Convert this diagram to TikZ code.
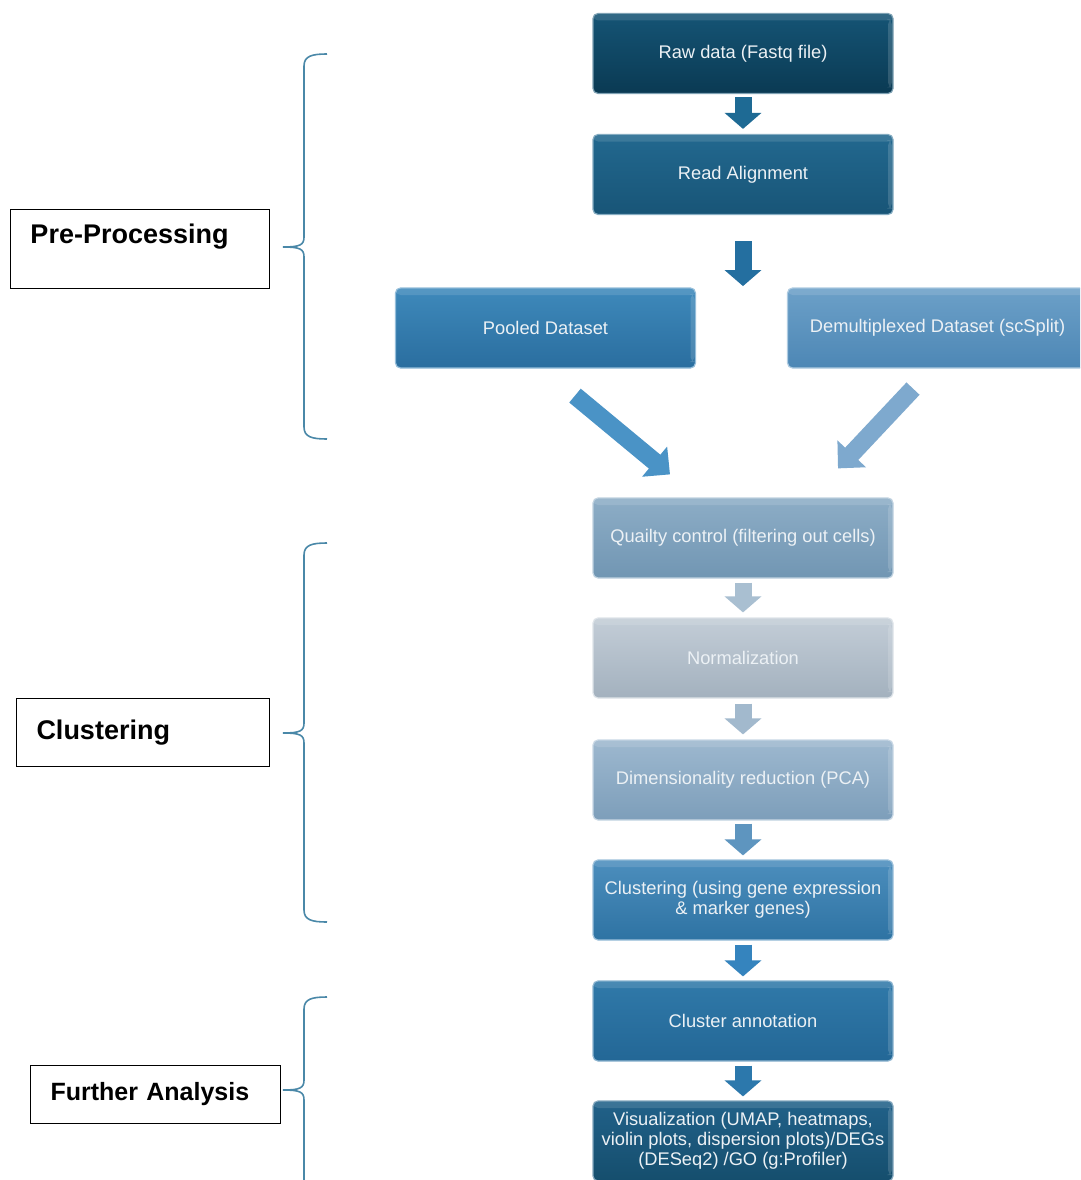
\documentclass[tikz,border=0pt]{standalone}
\usepackage{fontspec}
\setmainfont{Liberation Sans}
\usetikzlibrary{arrows.meta,calc}

\definecolor{boxtext}{HTML}{ECF1F5}
\definecolor{bracecol}{HTML}{4A88A8}
% box colours (top, bottom)
\definecolor{rawT}{HTML}{155475}\definecolor{rawB}{HTML}{0A3A53}
\definecolor{readT}{HTML}{22688F}\definecolor{readB}{HTML}{185577}
\definecolor{poolT}{HTML}{3E89BB}\definecolor{poolB}{HTML}{2A6E9F}
\definecolor{demT}{HTML}{6CA0C8}\definecolor{demB}{HTML}{4D87B5}
\definecolor{qcT}{HTML}{8DADC6}\definecolor{qcB}{HTML}{7196B3}
\definecolor{normT}{HTML}{C3CDD7}\definecolor{normB}{HTML}{A3B1BE}
\definecolor{dimT}{HTML}{9DB8CF}\definecolor{dimB}{HTML}{7D9EBA}
\definecolor{cluT}{HTML}{4C8EBD}\definecolor{cluB}{HTML}{2E73A3}
\definecolor{annT}{HTML}{3079A9}\definecolor{annB}{HTML}{236796}
\definecolor{visT}{HTML}{216189}\definecolor{visB}{HTML}{154E6D}
% arrow colours
\definecolor{arA}{HTML}{1E6A94}
\definecolor{arB}{HTML}{246FA0}
\definecolor{arC}{HTML}{4A93C6}
\definecolor{arD}{HTML}{7EA9CE}
\definecolor{arE}{HTML}{A9BFD1}
\definecolor{arF}{HTML}{A2B9CD}
\definecolor{arG}{HTML}{5E95BF}
\definecolor{arH}{HTML}{3584BE}
\definecolor{arI}{HTML}{2C78AC}

\tikzset{
  flowbox/.style 2 args={rounded corners=5pt, minimum width=300pt, minimum height=80pt,
    inner sep=4pt, text=boxtext, font=\fontsize{18.3}{20}\selectfont, align=center,
    top color=#1, bottom color=#2, draw=#1!55!white, line width=1.2pt,
    path picture={\fill[white,opacity=0.12]
      ([yshift=-1pt]path picture bounding box.north west) rectangle
      ([yshift=-7pt]path picture bounding box.north east);
      \fill[white,opacity=0.15]
      ([xshift=-5pt,yshift=-6pt]path picture bounding box.north east) rectangle
      ([xshift=-1pt,yshift=6pt]path picture bounding box.south east);}},
  blockarr/.style={line width=17pt, draw=#1, -{Triangle[length=16pt,width=36pt]}},
  diagarr/.style={line width=18pt, draw=#1, -{Triangle[length=20pt,width=38pt]}},
  bracestyle/.style={draw=bracecol, line width=1.6pt},
  labelbox/.style={draw=black, line width=1pt, anchor=north west, inner xsep=20pt,
    font=\bfseries\fontsize{27}{30}\selectfont, align=left}
}

\newcommand{\curlybracket}[3]{%
  \draw[bracestyle] (327,#1) .. controls (312,#1) and (304,{#1+2}) .. (304,{#1+12})
    -- (304,{#2-10}) .. controls (304,{#2-2}) and (300,#2) .. (283,#2)
    .. controls (300,#2) and (304,{#2+2}) .. (304,{#2+10})
    -- (304,{#3-12}) .. controls (304,{#3-2}) and (312,#3) .. (327,#3);}

\begin{document}
\begin{tikzpicture}[x=1pt,y=-1pt]
\clip (0,0) rectangle (1080,1180);
\fill[white] (0,0) rectangle (1080,1180);

% flow boxes
\node[flowbox={rawT}{rawB}]  (raw)    at (743,53.5)  {Raw data (Fastq file)};
\node[flowbox={readT}{readB}] (read)  at (743,174.5) {Read Alignment};
\node[flowbox={poolT}{poolB}] (pooled) at (545.5,328) {Pooled Dataset};
\node[flowbox={demT}{demB}]  (demux)  at (937.5,328) {Demultiplexed Dataset (scSplit)};
\node[flowbox={qcT}{qcB}]    (qc)     at (743,538)   {Quailty control (filtering out cells)};
\node[flowbox={normT}{normB}] (norm)  at (743,658)   {Normalization};
\node[flowbox={dimT}{dimB}]  (dim)    at (743,780)   {Dimensionality reduction (PCA)};
\node[flowbox={cluT}{cluB}]  (clus)   at (743,900)   {Clustering (using gene expression\\ \& marker genes)};
\node[flowbox={annT}{annB}]  (annot)  at (743,1021)  {Cluster annotation};
\node[flowbox={visT}{visB}]  (vis)    at (743,1141)  {Visualization (UMAP, heatmaps,\\ violin plots, dispersion plots)/DEGs\\ (DESeq2) /GO (g:Profiler)};

% block arrows
\draw[blockarr=arA] ($(raw.south)+(0,3)$) -- ($(read.north)+(0,-5)$);
\coordinate (split) at ($(read.south)+(0,71)$);
\draw[blockarr=arB] ($(read.south)+(0,26)$) -- (split);
\draw[diagarr=arC] ($(pooled.south)+(29.5,27)$) -- ($(qc.north)+(-73,-23)$);
\draw[diagarr=arD] ($(demux.south)+(-24.5,20)$) -- ($(qc.north)+(95,-29)$);
\draw[blockarr=arE] ($(qc.south)+(0,4)$) -- ($(norm.north)+(0,-5)$);
\draw[blockarr=arF] ($(norm.south)+(0,5)$) -- ($(dim.north)+(0,-5)$);
\draw[blockarr=arG] ($(dim.south)+(0,3)$) -- ($(clus.north)+(0,-4)$);
\draw[blockarr=arH] ($(clus.south)+(0,4)$) -- ($(annot.north)+(0,-4)$);
\draw[blockarr=arI] ($(annot.south)+(0,4)$) -- ($(vis.north)+(0,-4)$);

% left label boxes
\node[labelbox, minimum width=259pt, minimum height=79pt, text width=219pt] (lpre) at (10,209) {Pre-Processing\\\mbox{}};
\node[labelbox, minimum width=253pt, minimum height=68pt, text width=213pt] (lclus) at (16,698) {Clustering};
\node[labelbox, minimum width=250pt, minimum height=58pt, text width=210pt, font=\bfseries\fontsize{25}{30}\selectfont] (lfur) at (30,1065) {Further Analysis};

% braces
\curlybracket{54}{247}{439}
\curlybracket{543}{733}{922}
\curlybracket{997}{1090}{1200}
\end{tikzpicture}
\end{document}
